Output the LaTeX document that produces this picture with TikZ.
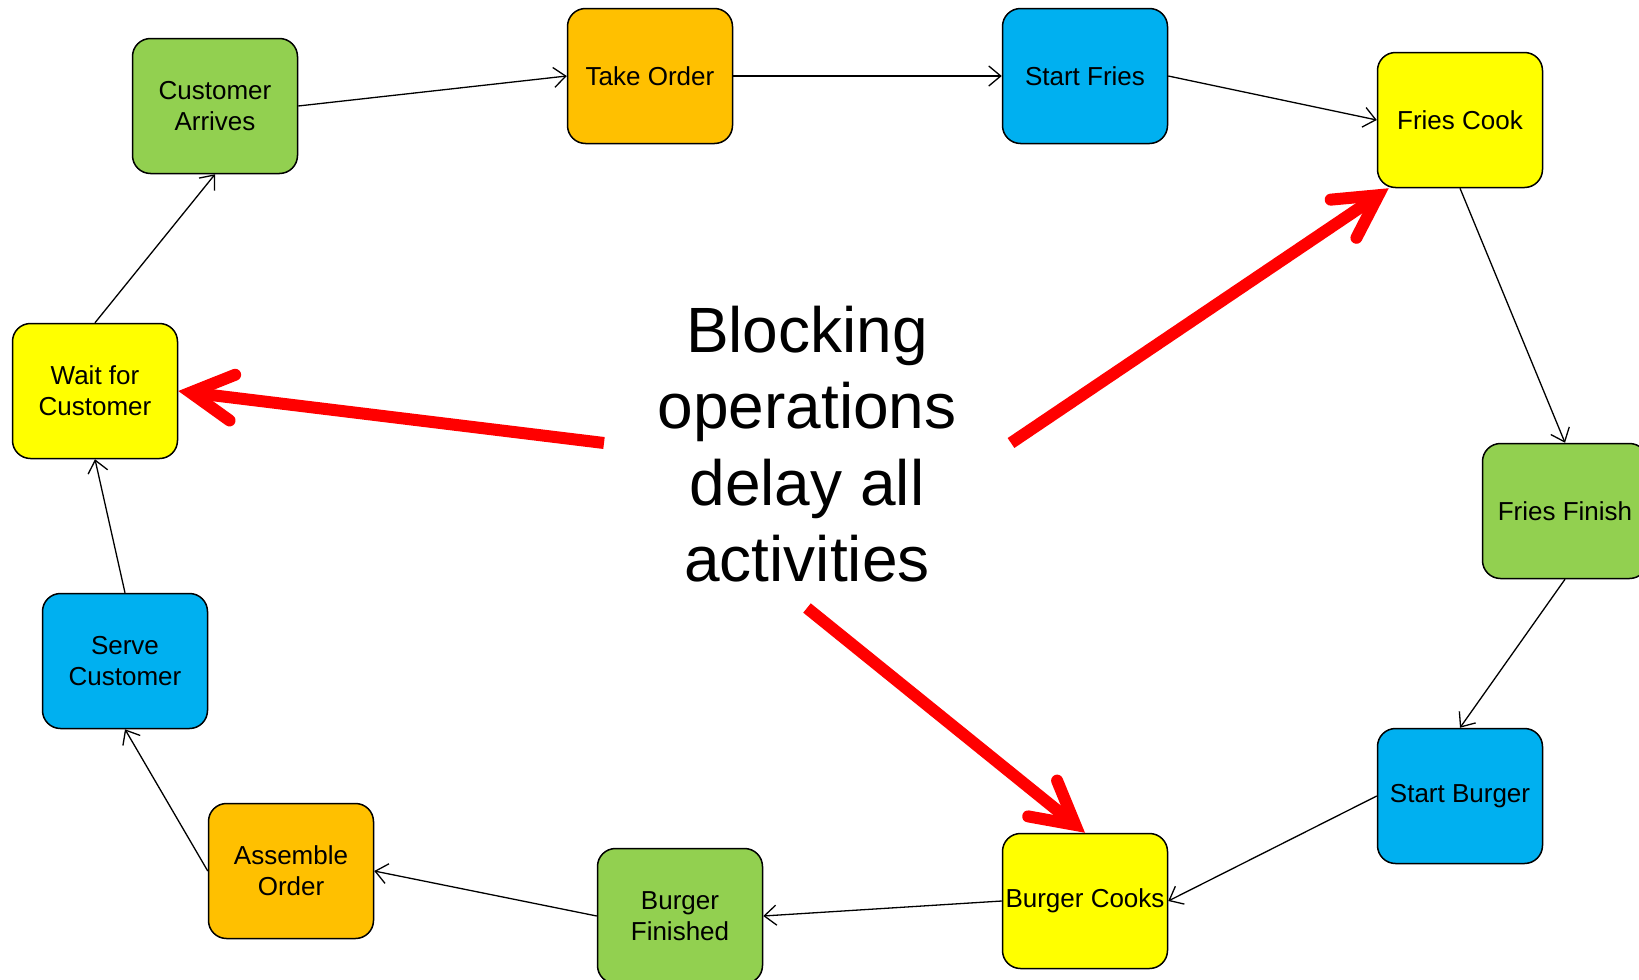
\documentclass[tikz,border=0pt]{standalone}
\usepackage{fontspec}
\setmainfont{Liberation Sans}
\usetikzlibrary{arrows.meta}
\definecolor{bgreen}{HTML}{92D050}
\definecolor{borange}{HTML}{FFC000}
\definecolor{bblue}{HTML}{00B0F0}
\definecolor{byellow}{HTML}{FFFF00}
\definecolor{bred}{HTML}{FF0000}
\tikzset{
  stepbox/.style={draw=black, line width=1.5pt, rounded corners=18pt,
    minimum width=165pt, minimum height=135pt, inner sep=0pt, align=center,
    font=\fontsize{26}{31}\selectfont},
  flow/.style={-{Straight Barb[length=12pt,width=20pt]}, line width=1.3pt},
  bigarrow/.style={bred, line width=12pt, line cap=butt,
    -{Straight Barb[length=42pt,width=46pt,line cap=round,line join=miter]}},
}
\begin{document}
\begin{tikzpicture}[x=1pt,y=-1pt]
\useasboundingbox (0,0) rectangle (1639,980);
\fill[white] (0,0) rectangle (1639,980);
\node[stepbox, fill=bgreen]  (ca) at (215,106) {Customer\\Arrives};
\node[stepbox, fill=borange] (to) at (650,76)  {Take Order};
\node[stepbox, fill=bblue]   (sf) at (1085,76) {Start Fries};
\node[stepbox, fill=byellow] (fc) at (1460,120) {Fries Cook};
\node[stepbox, fill=bgreen]  (ff) at (1565,511) {Fries Finish};
\node[stepbox, fill=bblue]   (sb) at (1460,796) {Start Burger};
\node[stepbox, fill=byellow] (bc) at (1085,901) {Burger Cooks};
\node[stepbox, fill=bgreen]  (bf) at (680,916) {Burger\\Finished};
\node[stepbox, fill=borange] (ao) at (291,871) {Assemble\\Order};
\node[stepbox, fill=bblue]   (sc) at (125,661) {Serve\\Customer};
\node[stepbox, fill=byellow] (wc) at (95,391)  {Wait for\\Customer};

\draw[flow] (ca.east) -- (to.west);
\draw[flow] (to.east) -- (sf.west);
\draw[flow] (sf.east) -- (fc.west);
\draw[flow] (fc.south) -- (ff.north);
\draw[flow] (ff.south) -- (sb.north);
\draw[flow] (sb.west) -- (bc.east);
\draw[flow] (bc.west) -- (bf.east);
\draw[flow] (bf.west) -- (ao.east);
\draw[flow] (ao.west) -- (sc.south);
\draw[flow] (sc.north) -- (wc.south);
\draw[flow] (wc.north) -- (ca.south);

\node[align=center, font=\fontsize{64}{76.5}\selectfont] (msg) at (807,444)
  {Blocking\\operations\\delay all\\activities};

\coordinate (s1) at (604,443);
\coordinate (s2) at (1011,443);
\coordinate (s3) at (807,608);
\draw[bigarrow] (s1) -- (wc.east);
\draw[bigarrow] (s2) -- ([xshift=12pt]fc.south west);
\draw[bigarrow] (s3) -- (bc.north);
\end{tikzpicture}
\end{document}
